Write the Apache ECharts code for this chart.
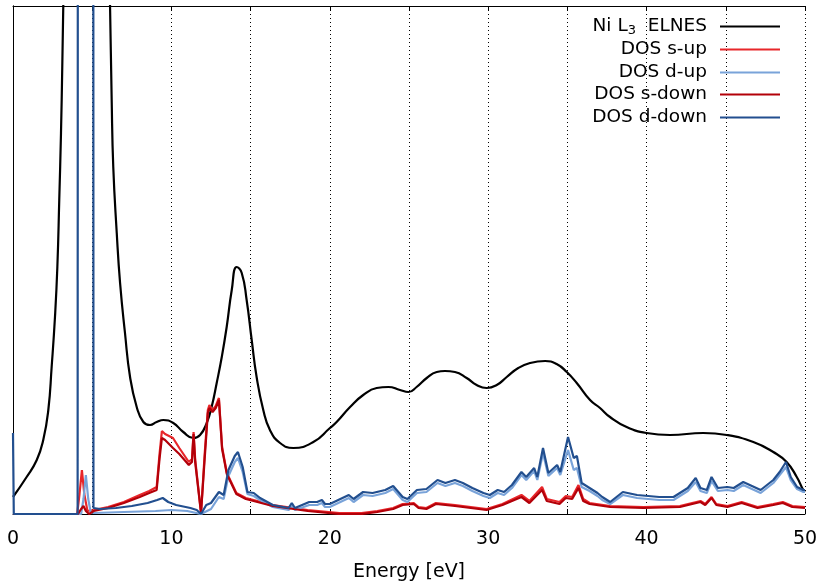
<!DOCTYPE html>
<html><head><meta charset="utf-8">
<script src="https://cdn.jsdelivr.net/npm/echarts@6/dist/echarts.min.js"></script>
<style>html,body{margin:0;padding:0;background:#fff}#c{width:819px;height:583px}</style>
</head><body><div id="c"></div>
<script>
// Energy axis (eV)
const xMin = 0, xMax = 50, xStep = 5, labelStep = 10;
const seriesNames = ['Ni L3 ELNES', 'DOS s-up', 'DOS d-up', 'DOS s-down', 'DOS d-down'];

// Ni L3 ELNES [energy, intensity (a.u.)]
const elnes = [[0,17],[0.86,37],[1.5,54],[1.91,74],[2.23,104],[2.44,147],[2.65,197],[2.8,247],[2.92,314],[3.03,381],[3.11,447],[3.18,514],[3.3,620],[3.8,900],[4.6,1000],[5.4,900],[5.9,650],[6.05,560],[6.12,514],[6.23,414],[6.33,347],[6.55,281],[6.76,231],[7.07,181],[7.39,137],[7.81,107],[8.23,92],[8.65,89],[9.07,92],[9.49,94],[10.12,91],[10.75,82],[11.38,76],[11.81,79],[12.23,91],[12.54,107],[12.86,131],[13.18,157],[13.49,187],[13.81,224],[14.12,247],[14.44,241],[14.75,214],[15.07,174],[15.38,137],[15.8,104],[16.22,84],[16.86,71],[17.7,66],[18.96,72],[20.01,86],[20.43,92],[21.28,107],[22.11,119],[22.96,126],[23.7,127],[24.43,124],[24.96,122],[25.48,127],[26.12,136],[26.75,142],[27.27,143],[27.9,142],[28.64,136],[29.27,129],[29.9,126],[30.54,129],[31.17,137],[31.9,146],[32.64,151],[33.59,153],[34.32,150],[34.96,142],[35.59,131],[36.43,114],[37.06,106],[37.69,97],[38.74,87],[40.0,81],[41.48,79],[43.58,81],[45.06,79],[46.74,72],[48.0,62],[48.84,52],[49.48,37],[49.89,24],[50,22]];

// DOS s-up
const sUp = [[0,0],[4.05,0],[4.2,20],[4.35,44],[4.5,20],[4.7,3],[5.1,4],[6,7],[7,12],[8,19],[8.6,23],[9.07,27],[9.25,60],[9.4,83],[9.6,80],[10.1,76],[10.5,66],[11.1,52],[11.3,55],[11.4,82],[11.5,55],[11.87,1],[12.1,60],[12.3,104],[12.4,109],[12.6,104],[12.8,108],[13.0,116],[13.2,67],[13.5,41],[14.1,21],[14.7,16],[16.4,9],[18.6,4],[20.6,1],[22,1],[23,3],[24,6],[24.6,10],[25.3,11],[25.6,7],[26.1,6],[26.7,11],[27.9,9],[29.9,5],[30.9,10],[32.1,19],[32.6,13],[33.4,27],[33.7,15],[34.5,12],[34.9,18],[35.3,17],[35.7,29],[36,15],[36.4,11],[37.7,8],[39.8,7],[42.1,8],[43.4,13],[43.7,10],[44.1,17],[44.4,10],[45.1,8],[46,12],[47,7],[48,10],[48.6,12],[49.2,8],[50,7]];

// DOS d-up
const dUp = [[0,0],[4.3,0],[4.45,15],[4.6,39],[4.75,15],[4.9,2],[5.1,1],[7,2],[9,3],[10,4],[11,3],[11.87,0],[12.5,5],[13.0,17],[13.3,15],[13.6,38],[14.0,52],[14.2,56],[14.5,42],[14.8,20],[15.2,18],[15.6,14],[16.4,7],[17.4,4],[17.6,8],[17.8,4],[18.7,9],[19.2,9],[19.5,11],[19.7,7],[20.0,7],[20.8,13],[21.2,16],[21.5,12],[22.1,19],[22.7,18],[23.5,21],[24.0,25],[24.6,14],[24.9,12],[25.5,21],[26.1,22],[26.8,31],[27.3,28],[27.9,31],[28.4,28],[29.0,23],[29.7,18],[30.1,16],[30.6,21],[31.0,19],[31.5,26],[32.1,39],[32.4,34],[32.9,43],[33.1,34],[33.46,61],[33.8,38],[34.35,46],[34.55,39],[35.04,64],[35.4,44],[35.6,46],[35.9,27],[36.4,23],[36.9,18],[37.2,14],[37.7,10],[38.5,19],[39.4,16],[40.8,14],[41.7,14],[42.6,23],[43.1,32],[43.4,23],[43.8,21],[44.1,33],[44.5,23],[45.1,24],[45.5,23],[46.1,29],[47.2,21],[48.0,31],[48.4,39],[48.8,47],[49.1,34],[49.5,25],[49.9,22],[50,22]];

// DOS s-down
const sDown = [[0,0],[4.1,0],[4.3,5],[4.45,8],[4.6,3],[4.8,0],[5.1,3],[6,6],[7,11],[8,17],[8.6,21],[9.07,24],[9.25,55],[9.4,76],[9.6,74],[10.1,66],[10.5,60],[11.1,49],[11.3,52],[11.4,80],[11.5,52],[11.87,1],[12.1,55],[12.3,101],[12.4,106],[12.6,102],[12.8,106],[13.0,114],[13.2,65],[13.5,40],[14.1,20],[14.7,15],[16.4,8],[18.6,3],[20.6,0],[22,0],[23,2],[24,5],[24.6,9],[25.3,10],[25.6,6],[26.1,5],[26.7,10],[27.9,8],[29.9,4],[30.9,9],[32.1,17],[32.6,11],[33.4,24],[33.7,13],[34.5,10],[34.9,16],[35.3,15],[35.7,26],[36,13],[36.4,10],[37.7,7],[39.8,6],[42.1,7],[43.4,12],[43.7,9],[44.1,16],[44.4,9],[45.1,7],[46,11],[47,6],[48,9],[48.6,11],[49.2,7],[50,6]];

// DOS d-down
const dDown = [[0,81],[0.05,0],[4.08,0],[4.12,2000],[5.05,2000],[5.08,6],[5.5,5],[6.5,6],[7.5,8],[8.5,11],[9.1,14],[9.45,16],[9.8,12],[10.3,9],[11.2,6],[11.6,4],[11.87,0],[12.2,9],[12.5,11],[13.0,22],[13.3,19],[13.6,44],[14.0,58],[14.2,62],[14.5,47],[14.8,22],[15.2,21],[15.6,16],[16.4,9],[17.4,6],[17.6,11],[17.8,6],[18.7,12],[19.2,12],[19.5,14],[19.7,10],[20.0,10],[20.8,16],[21.2,19],[21.5,15],[22.1,22],[22.7,21],[23.5,24],[24.0,28],[24.6,17],[24.9,15],[25.5,24],[26.1,25],[26.8,34],[27.3,31],[27.9,34],[28.4,31],[29.0,26],[29.7,21],[30.1,19],[30.6,24],[31.0,22],[31.5,29],[32.1,42],[32.4,37],[32.9,46],[33.1,37],[33.46,66],[33.8,41],[34.35,49],[34.55,42],[35.04,77],[35.4,56],[35.6,58],[35.9,31],[36.4,26],[36.9,21],[37.2,17],[37.7,12],[38.5,22],[39.4,19],[40.8,17],[41.7,17],[42.6,26],[43.1,36],[43.4,26],[43.8,24],[44.1,37],[44.5,26],[45.1,27],[45.5,26],[46.1,32],[47.2,24],[48.0,34],[48.4,42],[48.8,52],[49.1,37],[49.5,27],[49.9,24],[50,24]];

const colors = ['#000000', '#e8262a', '#79a3d9', '#b30009', '#224f8f'];
const dataSets = [elnes, sUp, dUp, sDown, dDown];

const font = 'DejaVu Sans';
const chart = echarts.init(document.getElementById('c'), null, {renderer: 'canvas'});

const legendTops = [12, 35, 58, 80, 103];
const legends = seriesNames.map((n, i) => ({
  data: [{name: n, icon: 'rect'}],
  right: 34,
  top: legendTops[i],
  align: 'right',
  itemWidth: 60,
  itemHeight: 2,
  itemGap: 0,
  selectedMode: false,
  textStyle: {
    fontFamily: font, fontSize: 18.5, color: '#000', padding: [0, 8, 0, 0],
    rich: {
      n: {fontFamily: font, fontSize: 18.5, color: '#000'},
      s: {fontFamily: font, fontSize: 13, color: '#000', padding: [9, 0, 0, 0]}
    }
  },
  formatter: name => name === 'Ni L3 ELNES' ? '{n|Ni L}{s|3}{n|  ELNES}' : '{n|' + name + '}'
}));

const axisCommon = {
  type: 'value', min: xMin, max: xMax, interval: xStep,
  axisLine: {show: true, onZero: false, lineStyle: {color: '#000', width: 1}},
  axisTick: {show: true, inside: true, length: 5, lineStyle: {color: '#000'}},
};

chart.setOption({
  animation: false,
  backgroundColor: '#fff',
  legend: legends,
  grid: {left: 13, right: 14, top: 6, bottom: 69, containLabel: false, outerBoundsMode: 'none'},
  xAxis: [
    Object.assign({}, axisCommon, {
      position: 'bottom',
      name: 'Energy [eV]', nameLocation: 'middle', nameGap: 49,
      nameTextStyle: {fontFamily: font, fontSize: 19, color: '#000'},
      axisLabel: {show: true, margin: 16, fontFamily: font, fontSize: 19, color: '#000',
        formatter: v => (v % labelStep === 0 ? String(v) : '')},
      splitLine: {show: true, lineStyle: {color: '#000', type: [1, 3], width: 1}}
    }),
    Object.assign({}, axisCommon, {
      position: 'top',
      axisLabel: {show: false},
      splitLine: {show: false}
    })
  ],
  yAxis: [
    {type: 'value', min: 0, max: 508, position: 'left',
      axisLine: {show: true, lineStyle: {color: '#000', width: 1}},
      axisTick: {show: false}, axisLabel: {show: false}, splitLine: {show: false}},
    {type: 'value', min: 0, max: 508, position: 'right',
      axisLine: {show: true, lineStyle: {color: '#000', width: 1}},
      axisTick: {show: false}, axisLabel: {show: false}, splitLine: {show: false}}
  ],
  series: seriesNames.map((n, i) => ({
    name: n,
    type: 'line',
    data: dataSets[i],
    xAxisIndex: 0, yAxisIndex: 0,
    symbol: 'none',
    showSymbol: false,
    clip: true,
    smooth: i === 0 ? 0.5 : false,
    lineStyle: {color: colors[i], width: 2.2},
    itemStyle: {color: colors[i]},
    z: 2 + i
  }))
});
</script>
</body></html>
